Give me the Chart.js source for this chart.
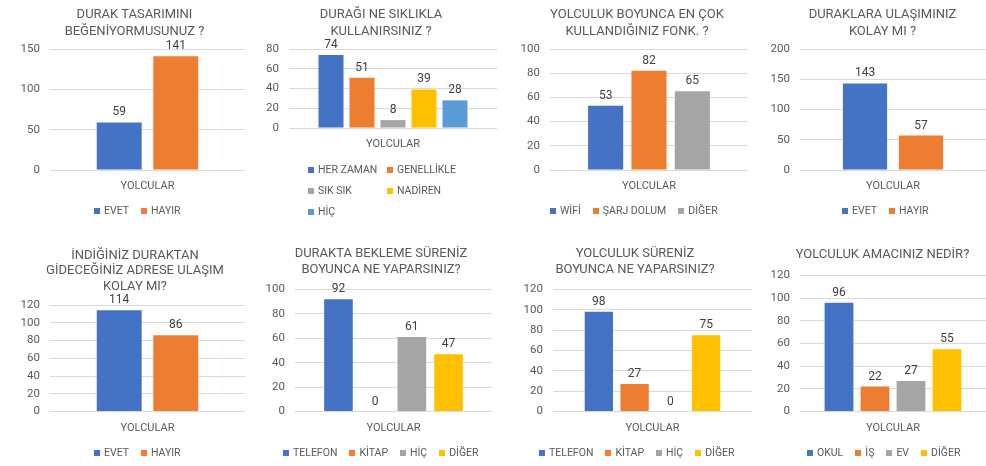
<!DOCTYPE html>
<html>
<head>
<meta charset="utf-8">
<script src="https://cdn.jsdelivr.net/npm/chart.js@4/dist/chart.umd.min.js"></script>
<style>
  body { margin: 0; background: #fff; }
  #wrap { position: relative; width: 986px; height: 466px; background: #fff; overflow: hidden; }
  .box { position: absolute; }
  .title { position: absolute; width: 300px; text-align: center; font: 13px Roboto, "Liberation Sans", sans-serif; color: #595959; white-space: nowrap; }
  .legend { position: absolute; font: 10.5px Roboto, "Liberation Sans", sans-serif; color: #595959; white-space: nowrap; line-height: 14px; }
  .legend .item { display: inline-block; margin-right: 12px; }
  .legend .sw { display: inline-block; width: 6px; height: 6px; margin-right: 4px; vertical-align: 0px; }
  .legend.grid .item { display: block; float: left; height: 21px; }
</style>
</head>
<body>
<div id="wrap"></div>
<script>
// ---- data ----
var category = ['YOLCULAR'];

var title1 = ['DURAK TASARIMINI', 'BEĞENİYORMUSUNUZ ?'];
var series1 = ['EVET', 'HAYIR'];
var values1 = [59, 141];

var title2 = ['DURAĞI NE SIKLIKLA', 'KULLANIRSINIZ ?'];
var series2 = ['HER ZAMAN', 'GENELLİKLE', 'SIK SIK', 'NADİREN', 'HİÇ'];
var values2 = [74, 51, 8, 39, 28];

var title3 = ['YOLCULUK BOYUNCA EN ÇOK', 'KULLANDIĞINIZ FONK. ?'];
var series3 = ['WİFİ', 'ŞARJ DOLUM', 'DİĞER'];
var values3 = [53, 82, 65];

var title4 = ['DURAKLARA ULAŞIMINIZ', 'KOLAY MI ?'];
var series4 = ['EVET', 'HAYIR'];
var values4 = [143, 57];

var title5 = ['İNDİĞİNİZ DURAKTAN', 'GİDECEĞİNİZ ADRESE ULAŞIM', 'KOLAY MI?'];
var series5 = ['EVET', 'HAYIR'];
var values5 = [114, 86];

var title6 = ['DURAKTA BEKLEME SÜRENİZ', 'BOYUNCA NE YAPARSINIZ?'];
var series6 = ['TELEFON', 'KİTAP', 'HİÇ', 'DİĞER'];
var values6 = [92, 0, 61, 47];

var title7 = ['YOLCULUK SÜRENİZ', 'BOYUNCA NE YAPARSINIZ?'];
var series7 = ['TELEFON', 'KİTAP', 'HİÇ', 'DİĞER'];
var values7 = [98, 27, 0, 75];

var title8 = ['YOLCULUK AMACINIZ NEDİR?'];
var series8 = ['OKUL', 'İŞ', 'EV', 'DİĞER'];
var values8 = [96, 22, 27, 55];

var yMax = [150, 80, 100, 200, 120, 100, 120, 120];
var yStep = [50, 20, 20, 50, 20, 20, 20, 20];

var palette = ['#4472C4', '#ED7D31', '#A5A5A5', '#FFC000', '#5B9BD5'];

// ---- layout: box = canvas position, l/r/top/bottom = plot area, tc = title centre (page px) ----
var AXIS_W = 40, AXIS_H = 30;
var layouts = [
  { x: 0,   y: 0,   w: 250, l: 50,  r: 245, top: 49,    bottom: 170,   pt: 5,    lh: 17,   tc: 134.5, cat: 0.58,  bar: 0.795, lx: 94,  ly: 211 },
  { x: 250, y: 0,   w: 250, l: 289, r: 497, top: 49,    bottom: 128,   pt: 5,    lh: 17,   tc: 381,   cat: 0.745, bar: 0.806, lx: 308, ly: 170, col: 79 },
  { x: 500, y: 0,   w: 250, l: 550, r: 748, top: 49,    bottom: 170,   pt: 5,    lh: 17,   tc: 637,   cat: 0.657, bar: 0.81,  lx: 550, ly: 211 },
  { x: 745, y: 0,   w: 241, l: 800, r: 986, top: 49,    bottom: 170,   pt: 5,    lh: 17,   tc: 882.5, cat: 0.602, bar: 0.79,  lx: 842, ly: 211 },
  { x: 0,   y: 233, w: 250, l: 50,  r: 245, top: 305,   bottom: 411.5, pt: 13.8, lh: 15.5, tc: 135,   cat: 0.58,  bar: 0.795, lx: 94,  ly: 453 },
  { x: 250, y: 233, w: 250, l: 295, r: 492, top: 289.5, bottom: 411.5, pt: 12.3, lh: 15.5, tc: 381,   cat: 0.745, bar: 0.78,  lx: 283, ly: 453 },
  { x: 500, y: 233, w: 252, l: 553, r: 752, top: 289.5, bottom: 411.5, pt: 12.3, lh: 15.5, tc: 635,   cat: 0.719, bar: 0.79,  lx: 539, ly: 453 },
  { x: 745, y: 233, w: 241, l: 800, r: 986, top: 275.5, bottom: 411.5, pt: 12.6, lh: 15.5, tc: 882.5, cat: 0.774, bar: 0.8,   lx: 807, ly: 453 }
];

Chart.defaults.font.family = 'Roboto, "Liberation Sans", sans-serif';
Chart.defaults.color = '#595959';

// value labels drawn above each bar
var valueLabels = {
  id: 'valueLabels',
  afterDatasetsDraw: function (chart) {
    var ctx = chart.ctx;
    ctx.save();
    ctx.font = '12px Roboto, "Liberation Sans", sans-serif';
    ctx.fillStyle = '#404040';
    ctx.textAlign = 'center';
    ctx.textBaseline = 'bottom';
    chart.data.datasets.forEach(function (ds, i) {
      var meta = chart.getDatasetMeta(i);
      meta.data.forEach(function (bar, j) {
        ctx.fillText(ds.data[j], bar.x, bar.y - 4);
      });
    });
    ctx.restore();
  }
};

function makeTitle(L, lines) {
  var t = document.createElement('div');
  t.className = 'title';
  t.style.left = (L.tc - 150) + 'px';
  t.style.top = (L.y + L.pt) + 'px';
  t.style.lineHeight = L.lh + 'px';
  t.innerHTML = lines.join('<br>');
  document.getElementById('wrap').appendChild(t);
}

function makeLegend(L, names) {
  var lg = document.createElement('div');
  lg.className = 'legend' + (L.col ? ' grid' : '');
  lg.style.left = L.lx + 'px';
  lg.style.top = (L.ly - 7) + 'px';
  if (L.col) lg.style.width = (L.col * 2) + 'px';
  names.forEach(function (name, i) {
    var it = document.createElement('span');
    it.className = 'item';
    if (L.col) { it.style.width = L.col + 'px'; it.style.marginRight = '0'; }
    var sw = document.createElement('span');
    sw.className = 'sw';
    sw.style.background = palette[i];
    it.appendChild(sw);
    it.appendChild(document.createTextNode(name));
    lg.appendChild(it);
  });
  document.getElementById('wrap').appendChild(lg);
}

function makeChart(n, title, names, values) {
  var L = layouts[n];
  var h = 233;
  var div = document.createElement('div');
  div.className = 'box';
  div.style.left = L.x + 'px';
  div.style.top = L.y + 'px';
  div.style.width = L.w + 'px';
  div.style.height = h + 'px';
  var cv = document.createElement('canvas');
  div.appendChild(cv);
  document.getElementById('wrap').appendChild(div);

  var pad = {
    left: L.l - L.x - AXIS_W,
    right: L.x + L.w - L.r,
    top: L.top - L.y,
    bottom: L.y + h - L.bottom - AXIS_H
  };

  var datasets = names.map(function (name, i) {
    return {
      label: name,
      data: [values[i]],
      backgroundColor: palette[i],
      categoryPercentage: L.cat,
      barPercentage: L.bar
    };
  });

  new Chart(cv.getContext('2d'), {
    type: 'bar',
    data: { labels: category, datasets: datasets },
    options: {
      responsive: true,
      maintainAspectRatio: false,
      animation: false,
      layout: { padding: pad },
      plugins: {
        title: { display: false },
        legend: { display: false },
        tooltip: { enabled: false }
      },
      scales: {
        x: {
          grid: { display: false, drawTicks: false },
          border: { display: false },
          ticks: { color: '#595959', font: { size: 11 }, padding: 10 },
          afterFit: function (axis) { axis.height = AXIS_H; }
        },
        y: {
          min: 0,
          max: yMax[n],
          ticks: { stepSize: yStep[n], color: '#595959', font: { size: 11.5 }, padding: 10 },
          grid: { color: '#d9d9d9', drawTicks: false },
          border: { display: false },
          afterFit: function (axis) { axis.width = AXIS_W; }
        }
      }
    },
    plugins: [valueLabels]
  });

  makeTitle(L, title);
  makeLegend(L, names);
}

makeChart(0, title1, series1, values1);
makeChart(1, title2, series2, values2);
makeChart(2, title3, series3, values3);
makeChart(3, title4, series4, values4);
makeChart(4, title5, series5, values5);
makeChart(5, title6, series6, values6);
makeChart(6, title7, series7, values7);
makeChart(7, title8, series8, values8);
</script>
</body>
</html>
